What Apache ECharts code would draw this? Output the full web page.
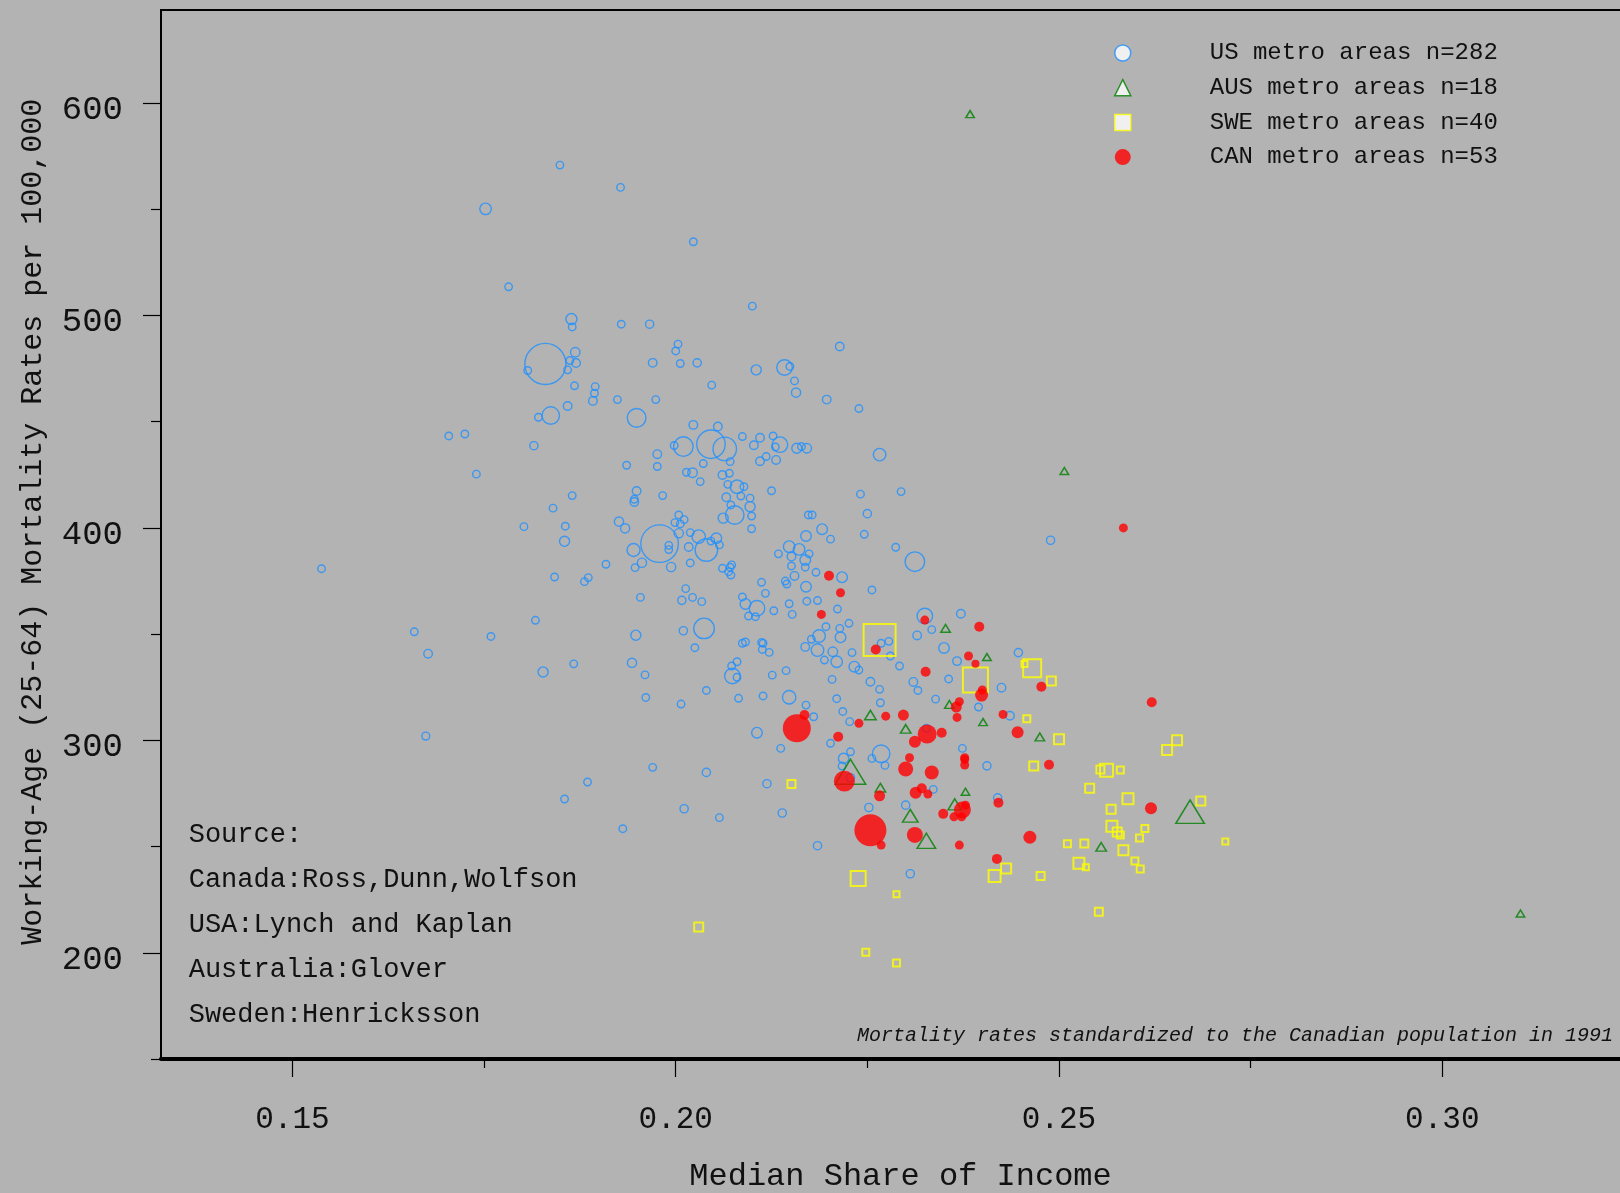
<!DOCTYPE html>
<html>
<head>
<meta charset="utf-8">
<script src="https://cdn.jsdelivr.net/npm/echarts@6/dist/echarts.min.js"></script>
<style>
  html, body { margin: 0; padding: 0; background: #b3b3b3; }
  #chart { width: 1620px; height: 1193px; }
</style>
</head>
<body>
<div id="chart"></div>
<script>
// Each row: [median share of income, working-age mortality per 100,000, population weight]
const usMetro = [
  [0.1849,570.8,1],[0.1928,560.3,1],[0.1752,550.2,2.35],[0.2023,534.7,1],[0.1782,513.5,1],
  [0.1864,498.3,2.2],[0.1865,494.6,1],[0.1929,495.9,1],[0.1966,495.9,1.2],[0.2003,486.5,1],
  [0.2000,483.3,1],[0.1830,477.2,30],[0.1869,482.7,1.6],[0.1862,478.8,1],[0.1870,477.6,1.3],
  [0.1807,474.1,1],[0.1859,474.4,1],[0.1970,477.7,1.3],[0.2006,477.4,1],[0.2028,477.7,1.2],
  [0.1868,466.9,1],[0.1895,466.5,1],[0.1894,463.4,1],[0.1892,459.8,1.3],[0.1924,460.4,1],
  [0.1974,460.4,1],[0.1837,452.9,5.4],[0.1821,452.1,1],[0.1859,457.4,1.3],[0.1949,451.8,6.2],
  [0.1704,443.3,1],[0.1725,444.2,1],[0.1815,438.7,1.2],[0.1740,425.3,1],[0.1936,429.5,1],
  [0.1976,434.7,1.3],[0.1976,428.9,1],[0.2010,438.3,6.8],[0.1998,438.8,1],[0.2023,448.5,1.3],
  [0.2022,426.0,1.6],[0.2014,426.2,1],[0.1949,417.4,1.3],[0.1865,415.2,1],[0.1983,415.2,1],
  [0.1946,413.5,1],[0.2032,421.8,1],
  [0.1538,380.8,1],[0.1659,351.1,1],[0.1677,340.8,1.3],[0.1674,302.0,1.1],[0.1759,348.9,1],
  [0.1802,400.6,1],[0.1840,409.3,1],[0.1856,400.8,1],[0.1855,393.7,1.8],[0.1842,376.9,1],
  [0.1817,356.5,1],[0.1827,332.2,1.8],[0.1867,336.0,1],[0.1855,272.4,1],[0.1885,280.4,1],
  [0.1931,258.4,1],[0.1881,374.7,1],[0.1886,376.6,1],[0.1909,382.9,1],[0.1926,403.0,1.5],
  [0.1934,399.8,1.5],[0.1946,412.2,1.3],[0.1945,389.6,3.0],[0.1979,392.6,25],[0.1991,391.8,1],
  [0.1991,389.8,1],[0.1956,383.6,1.5],[0.1947,381.3,1],[0.1994,381.6,1.5],[0.2004,406.1,1],
  [0.1999,402.5,1],[0.2011,403.9,1],[0.2006,401.9,1],[0.2004,397.5,1.5],[0.2019,397.8,1],
  [0.2017,391.0,1.3],[0.2019,383.5,1],[0.1954,367.3,1],[0.2013,371.4,1],[0.2008,365.9,1.2],
  [0.2022,367.3,1],[0.1948,349.5,1.8],[0.2010,351.6,1.2],[0.2025,343.6,1],[0.1943,336.5,1.5],
  [0.1960,330.8,1],[0.1961,320.2,1],[0.2007,317.1,1],[0.1970,287.3,1],[0.2011,267.8,1.2],
  [0.2037,352.7,7.5],
  [0.2100,504.4,1],[0.2214,485.4,1.3],[0.2105,474.4,1.8],[0.2142,475.5,4.3],[0.2149,476.0,1],
  [0.2047,467.2,1],[0.2155,469.2,1],[0.2157,463.7,1.5],[0.2197,460.4,1.3],[0.2239,456.2,1],
  [0.2055,447.7,1.3],[0.2046,439.4,14.4],[0.2064,437.2,9.8],[0.2087,443.0,1],[0.2110,442.4,1.3],
  [0.2102,438.9,1.3],[0.2127,443.3,1],[0.2136,439.2,4.3],[0.2130,438.1,1],[0.2158,437.5,1.8],
  [0.2164,438.3,1],[0.2171,437.5,1.6],[0.2266,434.5,2.8],[0.2071,431.2,1],[0.2036,430.3,1],
  [0.2110,431.4,1.3],[0.2118,433.6,1],[0.2131,432.0,1.3],[0.2061,424.9,1.3],[0.2070,425.7,1],
  [0.2068,420.5,1],[0.2080,419.4,3.2],[0.2089,419.4,1],[0.2125,417.5,1],[0.2241,415.9,1],
  [0.2294,417.1,1],[0.2066,414.4,1.3],[0.2085,415.0,1],[0.2097,414.0,1],
  [0.2072,410.8,1],[0.2097,410.0,1.8],[0.2077,406.1,6.1],[0.2062,404.6,1.8],[0.2099,405.6,1],
  [0.2173,406.1,1],[0.2178,406.1,1],[0.2250,406.7,1.2],[0.2099,399.6,1],[0.2191,399.4,2.0],
  [0.2246,397.0,1],[0.2202,394.7,1],[0.2170,396.2,2.0],[0.2287,390.9,1],[0.2030,395.9,3.2],
  [0.2040,389.6,9.0],[0.2046,393.8,1],[0.2053,395.1,2.0],[0.2057,392.0,1],[0.2134,387.8,1],
  [0.2148,391.2,2.35],[0.2161,389.9,2.35],[0.2151,386.5,1.3],[0.2174,387.8,1],[0.2169,384.9,2.0],
  [0.2151,382.1,1],[0.2169,381.5,1],[0.2061,381.0,1],[0.2071,381.5,1],[0.2069,379.4,1],
  [0.2073,382.6,1],[0.2072,377.8,1],[0.2155,377.4,1.3],[0.2183,379.1,1],[0.2217,376.8,2.0],
  [0.2143,375.0,1],[0.2145,373.6,1],[0.2170,372.3,2.0],[0.2256,370.8,1],[0.2112,374.4,1],
  [0.2117,369.2,1],[0.2034,365.3,1],[0.2087,367.5,1],[0.2091,364.2,2.0],[0.2106,362.2,4.3],
  [0.2095,358.5,1],[0.2104,358.2,1],[0.2128,361.0,1],[0.2148,364.3,1],[0.2152,359.3,1],
  [0.2171,365.5,1],[0.2185,365.8,1],[0.2211,361.8,1],[0.2087,345.7,1],[0.2091,346.3,1],
  [0.2112,346.1,1],[0.2114,345.7,1],[0.2113,342.8,1],[0.2122,341.4,1],[0.2073,335.0,1],
  [0.2080,337.0,1],[0.2074,330.3,4.3],[0.2080,329.7,1],[0.2040,323.5,1],[0.2082,319.8,1],
  [0.2114,320.9,1],[0.2126,330.7,1],[0.2144,332.8,1],[0.2148,320.3,3.2],[0.2170,316.6,1],
  [0.2180,311.1,1],[0.2106,303.6,2.0],[0.2137,296.2,1],[0.2169,344.0,1.3],[0.2177,347.6,1],
  [0.2187,349.1,2.8],[0.2185,342.5,2.8],[0.2196,353.5,1],[0.2215,348.5,2.0],[0.2214,352.7,1],
  [0.2226,355.1,1],[0.2194,337.8,1],[0.2205,341.7,1.6],[0.2210,337.0,2.35],[0.2230,341.3,1],
  [0.2233,334.7,2.0],[0.2239,333.1,1],[0.2204,328.7,1],[0.2254,327.6,1.3],[0.2266,324.0,1],
  [0.2267,317.7,1],[0.2210,319.6,1],[0.2218,313.6,1],[0.2227,308.8,1],[0.2202,298.6,1],
  [0.2268,293.7,5.4],[0.2280,339.7,1],[0.2278,346.6,1],[0.2268,345.7,1],[0.2228,294.6,1],
  [0.2219,291.5,1.9],[0.2256,291.5,1],
  [0.2489,394.2,1.2],[0.2312,384.1,6.8],[0.2325,358.5,4.3],[0.2372,359.6,1.3],[0.2334,352.1,1],
  [0.2315,349.4,1.3],[0.2350,343.5,2.0],[0.2367,337.3,1.3],[0.2292,335.0,1],[0.2447,341.3,1.2],
  [0.2310,327.5,1.3],[0.2316,323.5,1],[0.2356,328.9,1],[0.2339,319.4,1],[0.2425,324.8,1.3],
  [0.2395,315.7,1],[0.2436,311.6,1.3],[0.2327,305.7,1],[0.2374,296.2,1],
  [0.2040,284.9,1.2],[0.2057,263.6,1],[0.2119,279.6,1.2],[0.2139,265.8,1.2],[0.2185,250.4,1.2],
  [0.2217,287.9,1],[0.2228,282.4,1.2],[0.2273,288.2,1],[0.2252,268.4,1.2],[0.2300,269.5,1.2],
  [0.2336,276.9,1],[0.2406,288.0,1.2],[0.2420,272.9,1.2],[0.2306,237.2,1.2]
];

const ausMetro = [
  [0.2384,594.8,1.28],[0.2507,426.8,1.28],[0.2254,311.9,2.35],[0.2352,352.7,1.6],[0.2406,339.2,1.28],
  [0.2357,316.9,1.6],[0.2401,308.6,1.28],[0.2300,305.4,1.96],[0.2475,301.6,1.6],[0.2228,285.2,16.5],
  [0.2267,277.7,1.96],[0.2306,264.5,4.27],[0.2327,252.7,6.08],[0.2364,269.9,3.24],[0.2378,275.8,1.28],
  [0.2671,266.4,14.4],[0.2555,249.9,1.96],[0.3102,218.5,1.28]
];

const sweMetro = [
  [0.2266,347.2,18.2],[0.2391,328.4,11.1],[0.2465,333.9,5.76],[0.2455,335.9,0.64],[0.2490,327.9,1.44],
  [0.2458,310.2,0.87],[0.2500,300.5,1.78],[0.2151,279.4,1.14],[0.2238,235.0,4.0],[0.2288,227.5,0.64],
  [0.2030,212.1,1.44],[0.2248,200.3,0.87],[0.2288,195.2,0.87],[0.2416,236.2,2.56],[0.2431,239.7,1.78],
  [0.2654,300.1,1.78],[0.2641,295.4,1.78],[0.2467,287.9,1.44],[0.2554,286.3,1.14],[0.2562,285.9,3.0],
  [0.2580,286.0,0.87],[0.2540,277.4,1.44],[0.2590,272.5,2.15],[0.2568,267.6,1.44],[0.2569,259.6,2.15],
  [0.2576,256.8,1.44],[0.2580,255.4,0.87],[0.2612,258.5,0.87],[0.2605,254.0,0.87],[0.2685,271.4,1.44],
  [0.2717,252.4,0.64],[0.2511,251.3,0.87],[0.2533,251.5,1.14],[0.2584,248.3,1.78],[0.2526,242.2,2.15],
  [0.2535,240.3,0.64],[0.2599,243.2,0.87],[0.2606,239.4,0.87],[0.2476,236.2,1.14],[0.2552,219.3,1.14]
];

const canMetro = [
  [0.2200,377.5,1.78],[0.2215,369.5,1.44],[0.2190,359.3,1.44],[0.2261,342.8,1.78],[0.2168,311.9,1.78],
  [0.2158,305.7,13.9],[0.2239,308.0,1.44],[0.2274,311.4,1.44],[0.2212,301.7,1.78],
  [0.2325,356.6,1.44],[0.2396,353.5,1.78],[0.2382,339.7,1.44],[0.2391,336.1,1.14],[0.2326,332.3,1.78],
  [0.2399,321.3,3.0],[0.2400,323.7,1.44],[0.2370,318.2,1.44],[0.2366,315.7,2.15],[0.2367,310.8,1.44],
  [0.2477,325.2,1.78],[0.2297,311.9,2.15],[0.2427,312.2,1.44],[0.2328,303.0,6.4],[0.2347,303.6,1.78],
  [0.2312,299.3,2.56],[0.2446,303.8,2.56],[0.2305,291.8,1.44],[0.2377,291.8,1.44],[0.2584,400.0,1.44],
  [0.2220,280.8,7.8],[0.2266,273.9,2.15],[0.2254,257.7,18.2],[0.2268,250.7,1.44],[0.2300,286.5,4.0],
  [0.2334,284.9,3.5],[0.2313,275.3,2.56],[0.2321,277.4,1.78],[0.2329,274.7,1.44],[0.2312,255.5,4.55],
  [0.2349,265.4,1.78],[0.2363,264.0,1.44],[0.2374,267.2,5.1],[0.2378,269.5,1.44],[0.2373,264.0,1.44],
  [0.2377,291.0,1.44],[0.2377,288.4,1.44],[0.2370,250.7,1.44],[0.2421,270.6,1.78],[0.2419,244.2,1.78],
  [0.2621,317.9,1.78],[0.2487,288.5,1.78],[0.2620,268.0,2.56],[0.2462,254.4,3.0]
];

const seriesNames = ['US metro areas n=282', 'AUS metro areas n=18', 'SWE metro areas n=40', 'CAN metro areas n=53'];
const xTicks = [0.15, 0.20, 0.25, 0.30];
const xMinorTicks = [0.175, 0.225, 0.275];
const yTicks = [200, 300, 400, 500, 600];
const yMinorTicks = [150, 250, 350, 450, 550];
const sourceLines = ['Source:', 'Canada:Ross,Dunn,Wolfson', 'USA:Lynch and Kaplan', 'Australia:Glover', 'Sweden:Henricksson'];
const xTitle = 'Median Share of Income';
const yTitle = 'Working-Age (25-64) Mortality Rates per 100,000';
const noteText = 'Mortality rates standardized to the Canadian population in 1991';

const X_MIN = 0.13286, X_MAX = 0.32579;
const Y_MIN = 150, Y_MAX = 643.8;

const FONT = '"Liberation Mono", "DejaVu Sans Mono", monospace';
const INK = '#111111';
const US_BLUE = '#1e90ff', AUS_GREEN = '#008000', SWE_YELLOW = '#ffff00', CAN_RED = '#ff0000';

// marker side grows with the square root of the population weight
const markSize = v => 7.5 * Math.sqrt(v[2]);

const chart = echarts.init(document.getElementById('chart'), null, { renderer: 'canvas' });

const hideAll = { show: false };

chart.setOption({
  backgroundColor: '#b3b3b3',
  animation: false,
  grid: {
    left: 161, top: 10, right: -20, bottom: 134,
    show: true, borderColor: '#000', borderWidth: 2, backgroundColor: 'transparent',
    outerBoundsMode: 'none'
  },
  xAxis: [
    {
      type: 'value', min: X_MIN, max: X_MAX, position: 'bottom',
      axisLine: { show: true, onZero: false, lineStyle: { color: '#000', width: 4 } },
      axisTick: { show: true, customValues: xTicks, length: 18, lineStyle: { color: '#000', width: 1.2 } },
      axisLabel: { customValues: xTicks, formatter: v => v.toFixed(2), margin: 45,
                   fontFamily: FONT, fontSize: 31, color: INK },
      splitLine: hideAll,
      name: xTitle, nameLocation: 'middle', nameGap: 102,
      nameTextStyle: { fontFamily: FONT, fontSize: 32, color: INK }
    },
    {
      type: 'value', min: X_MIN, max: X_MAX, position: 'bottom',
      axisLine: { show: false, onZero: false },
      axisTick: { show: true, customValues: xMinorTicks, length: 9, lineStyle: { color: '#000', width: 1.2 } },
      axisLabel: hideAll, splitLine: hideAll
    }
  ],
  yAxis: [
    {
      type: 'value', min: Y_MIN, max: Y_MAX, position: 'left',
      axisLine: { show: false, onZero: false },
      axisTick: { show: true, customValues: yTicks, length: 18, lineStyle: { color: '#000', width: 1.2 } },
      axisLabel: { customValues: yTicks, margin: 38, verticalAlign: 'top', lineHeight: 14,
                   fontFamily: FONT, fontSize: 34, color: INK },
      splitLine: hideAll
    },
    {
      type: 'value', min: Y_MIN, max: Y_MAX, position: 'left',
      axisLine: { show: false, onZero: false },
      axisTick: { show: true, customValues: yMinorTicks, length: 10, lineStyle: { color: '#000', width: 1.2 } },
      axisLabel: hideAll, splitLine: hideAll
    }
  ],
  legend: {
    orient: 'vertical', left: 1114, top: 41, padding: 0,
    itemWidth: 16, itemHeight: 16, itemGap: 10.7,
    textStyle: { fontFamily: FONT, fontSize: 24, color: INK, lineHeight: 24, padding: [0, 0, 0, 74] },
    data: [
      { name: seriesNames[0], icon: 'circle', itemStyle: { color: '#fff', borderColor: US_BLUE, borderWidth: 1.5 } },
      { name: seriesNames[1], icon: 'triangle', itemStyle: { color: '#fff', borderColor: AUS_GREEN, borderWidth: 1.5 } },
      { name: seriesNames[2], icon: 'rect', itemStyle: { color: '#fff', borderColor: SWE_YELLOW, borderWidth: 1.5 } },
      { name: seriesNames[3], icon: 'circle', itemStyle: { color: CAN_RED } }
    ]
  },
  series: [
    {
      type: 'scatter', name: seriesNames[0], data: usMetro, symbol: 'circle', symbolSize: markSize,
      itemStyle: { color: 'transparent', borderColor: US_BLUE, borderWidth: 1.4 }, z: 2,
      emphasis: { disabled: true }
    },
    {
      type: 'scatter', name: seriesNames[1], data: ausMetro, symbol: 'triangle',
      symbolSize: v => { const s = markSize(v); return [s, s * 0.82]; },
      itemStyle: { color: 'transparent', borderColor: AUS_GREEN, borderWidth: 1.5 }, z: 3,
      emphasis: { disabled: true }
    },
    {
      type: 'scatter', name: seriesNames[2], data: sweMetro, symbol: 'rect', symbolSize: markSize,
      itemStyle: { color: 'transparent', borderColor: SWE_YELLOW, borderWidth: 2 }, z: 3,
      emphasis: { disabled: true }
    },
    {
      type: 'scatter', name: seriesNames[3], data: canMetro, symbol: 'circle', symbolSize: markSize,
      itemStyle: { color: CAN_RED }, z: 4,
      emphasis: { disabled: true }
    }
  ],
  graphic: [
    {
      type: 'text', x: 33, y: 521.7, rotation: Math.PI / 2,
      style: { text: yTitle, font: '30px ' + FONT, fill: INK, align: 'center', verticalAlign: 'middle' }
    },
    {
      type: 'text', x: 1613, y: 1036,
      style: { text: noteText, font: 'italic 20px ' + FONT, fill: INK, align: 'right', verticalAlign: 'middle' }
    }
  ].concat(sourceLines.map((t, i) => ({
    type: 'text', x: 188.7, y: 835 + i * 45,
    style: { text: t, font: '27px ' + FONT, fill: INK, align: 'left', verticalAlign: 'middle' }
  })))
});
</script>
</body>
</html>
